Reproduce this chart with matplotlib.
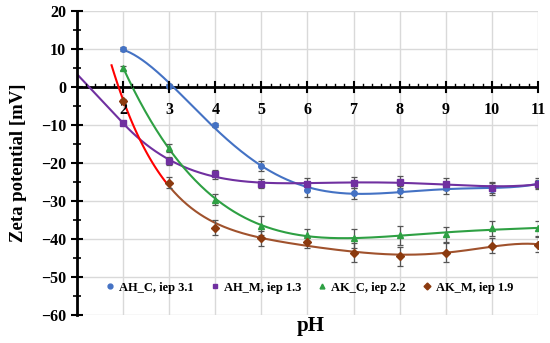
import numpy as np
import matplotlib
matplotlib.use("Agg")
import matplotlib.pyplot as plt
from matplotlib.ticker import MultipleLocator
from matplotlib.lines import Line2D

pH = [2, 3, 4, 5, 6, 7, 8, 9, 10, 11]

ah_c = [10.0, 0.3, -10.0, -20.8, -27.0, -28.0, -27.5, -26.7, -26.9, -25.4]
ah_c_err = [0.5, 0.5, 0.5, 1.2, 2.0, 1.5, 1.5, 1.5, 1.5, 1.5]
ah_m = [-9.5, -19.5, -23.0, -25.5, -25.5, -25.2, -25.0, -25.5, -26.5, -25.5]
ah_m_err = [0.5, 1.0, 1.2, 1.2, 1.5, 1.5, 1.5, 1.5, 1.5, 1.0]
ak_c = [5.0, -16.0, -29.7, -36.5, -39.0, -39.8, -39.0, -38.8, -37.2, -37.2]
ak_c_err = [0.5, 1.0, 1.5, 2.5, 1.5, 2.5, 2.5, 2.0, 2.0, 2.0]
ak_m = [-3.6, -25.2, -37.0, -39.8, -40.8, -43.6, -44.6, -43.6, -41.8, -41.5]
ak_m_err = [0.5, 1.5, 2.0, 2.0, 1.5, 2.5, 2.5, 2.5, 2.0, 2.0]

labels = ["AH_C, iep 3.1", "AH_M, iep 1.3", "AK_C, iep 2.2", "AK_M, iep 1.9"]
colors = ["#4472C4", "#7030A0", "#2EA043", "#8B3A0F"]
line_colors = ["#4472C4", "#7030A0", "#2EA043", "#A0522D"]
markers = ["o", "s", "^", "D"]
fit_start = [2.0, 1.0, 2.0, 1.75]
fit_deg = [5, 4, 5, 5]

plt.rcParams['font.family'] = ['Liberation Serif', 'DejaVu Serif']
plt.rcParams['font.weight'] = 'bold'

fig = plt.figure(figsize=(5.5, 3.43), dpi=100)
ax = fig.add_axes([0.14, 0.082, 0.838, 0.886])

series = [(ah_c, ah_c_err), (ah_m, ah_m_err), (ak_c, ak_c_err), (ak_m, ak_m_err)]
x = np.array(pH, dtype=float)
for i, (vals, errs) in enumerate(series):
    y = np.array(vals)
    coef = np.polyfit(x, y, fit_deg[i])
    xs = np.linspace(fit_start[i], 11, 300)
    ys = np.polyval(coef, xs)
    if i == 1:
        # tangent extension below the first measured pH
        slope = np.polyval(np.polyder(coef), x[0])
        y0 = np.polyval(coef, x[0])
        m = xs < x[0]
        ys[m] = y0 + slope * (xs[m] - x[0])
    if i == 3:
        m = xs <= 3
        ax.plot(xs[m], ys[m], color="#FF0000", lw=1.5, zorder=3)
        ax.plot(xs[~m], ys[~m], color=line_colors[i], lw=1.5, zorder=3)
    else:
        ax.plot(xs, ys, color=line_colors[i], lw=1.5, zorder=3)
    ax.errorbar(x, y, yerr=errs, fmt=markers[i], color=colors[i], ms=4,
                ecolor="#555555", elinewidth=0.9, capsize=2.5, capthick=0.9,
                zorder=4)

ax.set_xlim(1, 11)
ax.set_ylim(-60, 20)
ax.xaxis.set_major_locator(MultipleLocator(1))
ax.yaxis.set_major_locator(MultipleLocator(10))
ax.yaxis.set_minor_locator(MultipleLocator(5))
ax.grid(True, which='major', color="#D9D9D9", lw=1.0, zorder=0)
for s in ['top', 'right', 'bottom']:
    ax.spines[s].set_visible(False)
ax.spines['left'].set_linewidth(2)
ax.spines['left'].set_zorder(5)
ax.axhline(0, color='black', lw=2, zorder=2.5)
ax.tick_params(axis='y', which='major', direction='inout', length=9, width=1.5, labelsize=11.5)
ax.tick_params(axis='y', which='minor', direction='inout', length=6, width=1.2)
ax.tick_params(axis='x', which='both', bottom=False, labelbottom=False)

# x ticks on the zero line
for xv in range(2, 12):
    ax.plot([xv, xv], [-1.3, 1.3], color='black', lw=1.5, zorder=5, clip_on=False)
    ax.text(xv, -4.0, str(xv), ha='center', va='top', fontsize=11.5, fontweight='bold')
for xv in np.arange(1.2, 11.0, 0.2):
    if abs(xv - round(xv)) > 1e-6:
        ax.plot([xv, xv], [0, 0.8], color='black', lw=1.0, zorder=5)

ax.set_yticklabels([("\u2212" + str(-int(v)) if v < 0 else str(int(v))) for v in ax.get_yticks()])
ax.set_ylabel("Zeta potential [mV]", fontsize=13.5, fontweight='bold', labelpad=10)
fig.text(0.565, 0.05, "pH", ha='center', va='center', fontsize=15, fontweight='bold')

handles = [Line2D([], [], linestyle='none', marker=markers[i], color=colors[i], ms=3.5)
           for i in range(4)]
ax.legend(handles, labels, loc='center', bbox_to_anchor=(0.505, 0.09), ncol=4, frameon=False,
          fontsize=9, handlelength=0.6, handletextpad=0.4, columnspacing=1.4)

fig.savefig("out.png", dpi=100)
